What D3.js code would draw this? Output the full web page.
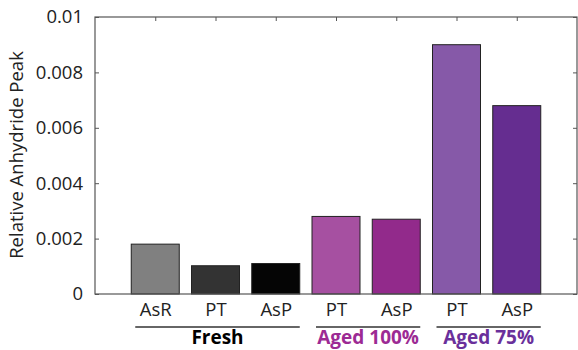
<!DOCTYPE html>
<html><head><meta charset="utf-8">
<script src="https://cdn.jsdelivr.net/npm/d3@7"></script>
<style>body{margin:0;background:#fff;} text{font-family:"Open Sans",sans-serif;}</style>
</head><body>
<svg id="c" width="578" height="350"></svg>
<script>
const categories = ["AsR","PT","AsP","PT","AsP","PT","AsP"];
const values = [0.0018,0.00102,0.0011,0.0028,0.0027,0.0090,0.0068];
const barColors = ["#808080","#333333","#050505","#a650a1","#922a8b","#8659a8","#652d90"];
const groups = [
  {name:"Fresh", from:0, to:2, color:"#000000"},
  {name:"Aged 100%", from:3, to:4, color:"#9c2a94"},
  {name:"Aged 75%", from:5, to:6, color:"#6a309b"}
];
const yTicks = [0,0.002,0.004,0.006,0.008,0.01];
const yTickLabels = ["0","0.002","0.004","0.006","0.008","0.01"];

const svg = d3.select("#c");
const L=95, R=577, T=17, B=294;
const x = d3.scaleLinear().domain([0,8]).range([L,R]);
const y = d3.scaleLinear().domain([0,0.01]).range([B,T]);
const bw = 48;
const axisCol = "#555";

// bars
svg.selectAll("rect.bar").data(values).join("rect")
  .attr("class","bar")
  .attr("x",(d,i)=>x(i+1)-bw/2).attr("width",bw)
  .attr("y",d=>y(d)).attr("height",d=>y(0)-y(d))
  .attr("fill",(d,i)=>barColors[i]).attr("stroke","#222").attr("stroke-width",1);

// frame
svg.append("rect").attr("x",L).attr("y",T).attr("width",R-L).attr("height",B-T)
  .attr("fill","none").attr("stroke",axisCol).attr("stroke-width",1.2);

// left axis
const yAx = d3.axisLeft(y).tickValues(yTicks).tickFormat((d,i)=>yTickLabels[i]).tickSize(-4).tickPadding(12);
const gy = svg.append("g").attr("transform",`translate(${L},0)`).call(yAx);
gy.select(".domain").remove();
gy.selectAll("line").attr("stroke",axisCol);
gy.selectAll("text").attr("font-size","18.5px").attr("fill","#222");

// right axis ticks
const gr = svg.append("g").attr("transform",`translate(${R},0)`).call(d3.axisRight(y).tickValues(yTicks).tickSize(-4).tickFormat(""));
gr.select(".domain").remove(); gr.selectAll("line").attr("stroke",axisCol);

// top ticks
const xt = d3.range(1,8);
const gt = svg.append("g").attr("transform",`translate(0,${T})`).call(d3.axisTop(x).tickValues(xt).tickSize(-4).tickFormat(""));
gt.select(".domain").remove(); gt.selectAll("line").attr("stroke",axisCol);

// bottom category labels
const gb = svg.append("g").attr("transform",`translate(0,${B})`).call(d3.axisBottom(x).tickValues(xt).tickSize(0).tickPadding(9).tickFormat((d,i)=>categories[i]));
gb.select(".domain").remove();
gb.selectAll("text").attr("font-size","18.5px").attr("fill","#222");

// group lines and labels
groups.forEach(g=>{
  const x0 = x(g.from+1)-bw/2+4, x1 = x(g.to+1)+bw/2;
  svg.append("line").attr("x1",x0).attr("x2",x1).attr("y1",327).attr("y2",327).attr("stroke","#333").attr("stroke-width",1.3);
  svg.append("text").attr("x",(x0+x1)/2).attr("y",344).attr("text-anchor","middle")
    .attr("font-size","19px").attr("font-weight","bold").attr("fill",g.color).text(g.name);
});

// y label
svg.append("text").attr("transform",`translate(23,155) rotate(-90)`).attr("text-anchor","middle")
  .attr("font-size","18.5px").attr("fill","#222").text("Relative Anhydride Peak");
</script>
</body></html>
